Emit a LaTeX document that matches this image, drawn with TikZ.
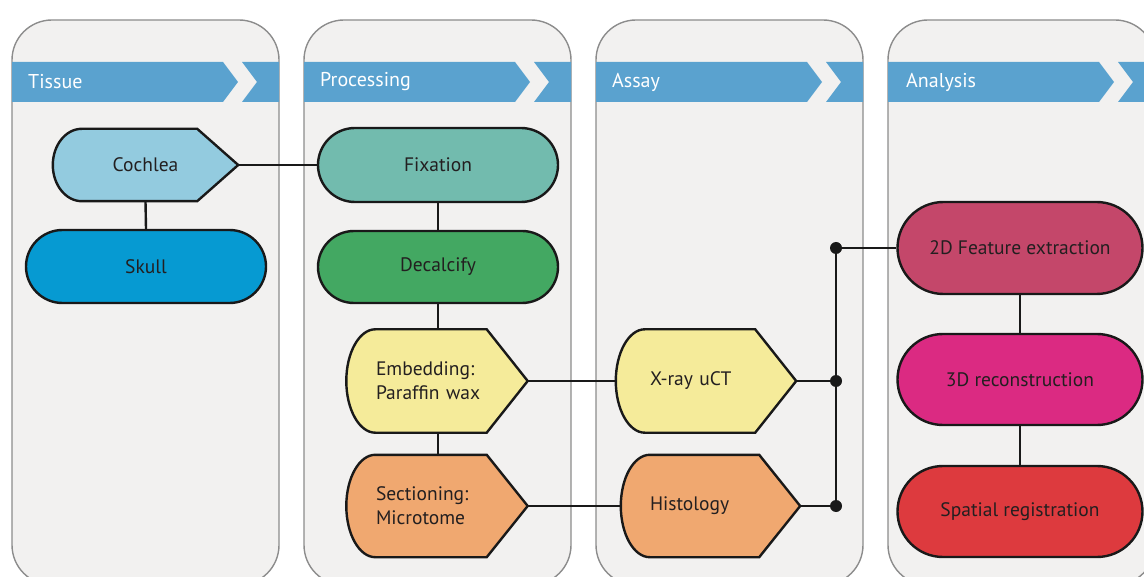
\documentclass[tikz,border=0pt]{standalone}
\usepackage{fontspec}
\setmainfont{PT Sans}
\usetikzlibrary{shapes.misc,calc}

\definecolor{panelfill}{HTML}{F2F1F0}
\definecolor{panelline}{HTML}{8C8C8C}
\definecolor{headblue}{HTML}{5AA2CF}
\definecolor{txt}{HTML}{231F20}
\definecolor{cochleablue}{HTML}{93CBDF}
\definecolor{skullblue}{HTML}{069AD2}
\definecolor{fixteal}{HTML}{72BBAE}
\definecolor{decalgreen}{HTML}{43A862}
\definecolor{waxyellow}{HTML}{F5EB9A}
\definecolor{sectorange}{HTML}{F0A870}
\definecolor{featrose}{HTML}{C4476A}
\definecolor{reconpink}{HTML}{DB2A82}
\definecolor{regred}{HTML}{DD3A3E}

\pgfdeclarelayer{back}
\pgfsetlayers{back,main}

\tikzset{
  panel/.style={draw=panelline, fill=panelfill, line width=1.4pt, rounded corners=40pt},
  headtext/.style={text=white, font=\fontsize{20}{24}\selectfont, anchor=west, inner sep=0pt},
  stadium/.style={rounded rectangle, draw=black!90, line width=2.4pt, minimum width=240pt,
    minimum height=73pt, inner sep=0pt, text=txt, font=\fontsize{19.5}{24}\selectfont},
  tag/.style={rectangle, inner sep=0pt, text=txt, align=left, font=\fontsize{19.5}{24}\selectfont},
  tagline/.style={draw=black!90, line width=2.4pt},
  link/.style={line width=2.4pt, draw=black!90},
  dot/.style={circle, fill=black!90, inner sep=0pt, minimum size=12pt}
}

% outline of a tag node: round back, pointed front
\newcommand{\tagoutline}[2]{%
  \filldraw[tagline, fill=#2] ([xshift=29pt]#1.north west) -- ([xshift=-41pt]#1.north east)
    -- (#1.east) -- ([xshift=-41pt]#1.south east) -- ([xshift=29pt]#1.south west)
    .. controls ([xshift=13pt]#1.south west) and ($(#1.west)!0.55!(#1.south west)$) .. (#1.west)
    .. controls ($(#1.west)!0.55!(#1.north west)$) and ([xshift=13pt]#1.north west) .. cycle;
}

\begin{document}
\begin{tikzpicture}[x=1pt, y=-1pt]
  \clip (0,0) rectangle (1144,577);

  % Panels and headers
  \begin{pgfonlayer}{back}
    \foreach \L/\title in {12/Tissue, 304/Processing, 596/Assay, 888/Analysis} {
      \draw[panel] (\L,20) rectangle ({\L+267},585);
      \fill[headblue] (\L,62) -- ({\L+211},62) -- ({\L+226},82) -- ({\L+211},102) -- (\L,102) -- cycle;
      \fill[headblue] ({\L+230},62) -- ({\L+267},62) -- ({\L+267},102) -- ({\L+230},102) -- ({\L+245},82) -- cycle;
    }
  \end{pgfonlayer}
  \node[headtext] (tissue) at (28,82) {Tissue};
  \node[headtext] (processing) at (320,82) {Processing};
  \node[headtext] (assay) at (612,82) {Assay};
  \node[headtext] (analysis) at (906,82) {Analysis};

  % Tissue
  \node[tag, minimum width=185pt, minimum height=72pt] (cochlea) at (145.5,165) {Cochlea};
  \node[stadium, fill=skullblue] (skull) at (146,266.5) {Skull};

  % Processing
  \node[stadium, fill=fixteal, minimum height=74pt] (fixation) at (438,165) {Fixation};
  \node[stadium, fill=decalgreen, minimum height=72pt] (decalcify) at (438,267) {Decalcify};
  \node[tag, minimum width=181pt, minimum height=103pt, text width=122pt] (embedding) at (437,381) {Embedding:\\Paraffin wax};
  \node[tag, minimum width=181pt, minimum height=102pt, text width=122pt] (sectioning) at (437,506) {Sectioning:\\Microtome};

  % Assay
  \node[tag, minimum width=180pt, minimum height=103pt, text width=112pt] (xray) at (706,381) {X-ray uCT};
  \node[tag, minimum width=179pt, minimum height=102pt, text width=121pt] (histology) at (710.5,506) {Histology};

  % Analysis
  \node[stadium, fill=featrose, minimum width=245pt, minimum height=92pt] (feature) at (1020,248) {2D Feature extraction};
  \node[stadium, fill=reconpink, minimum width=245pt, minimum height=91pt] (recon) at (1020,379.5) {3D reconstruction};
  \node[stadium, fill=regred, minimum width=245pt, minimum height=91pt] (register) at (1020,511.5) {Spatial registration};

  \begin{pgfonlayer}{back}
    \tagoutline{cochlea}{cochleablue}
    \tagoutline{embedding}{waxyellow}
    \tagoutline{sectioning}{sectorange}
    \tagoutline{xray}{waxyellow}
    \tagoutline{histology}{sectorange}
  \end{pgfonlayer}

  % Links
  \draw[link] (cochlea.east) -- (fixation.west);
  \draw[link] (cochlea.south) -- (skull.north);
  \draw[link] (fixation.south) -- (decalcify.north);
  \draw[link] (decalcify.south) -- (decalcify.south |- embedding.north);
  \draw[link] (decalcify.south |- embedding.south) -- (decalcify.south |- sectioning.north);
  \draw[link] (embedding.east) -- (xray.west);
  \draw[link] (sectioning.east) -- (histology.west);

  \node[dot] (jxray) at (836,381) {};
  \node[dot] (jhisto) at (836,506) {};
  \node[dot] (jfeat) at (836,248) {};
  \draw[link] (xray.east) -- (jxray.center);
  \draw[link] (histology.east) -- (jhisto.center);
  \draw[link] (jhisto.center) -- (jfeat.center) -- (feature.west);
  \draw[link] (feature.south) -- (recon.north);
  \draw[link] (recon.south) -- (register.north);
\end{tikzpicture}
\end{document}
